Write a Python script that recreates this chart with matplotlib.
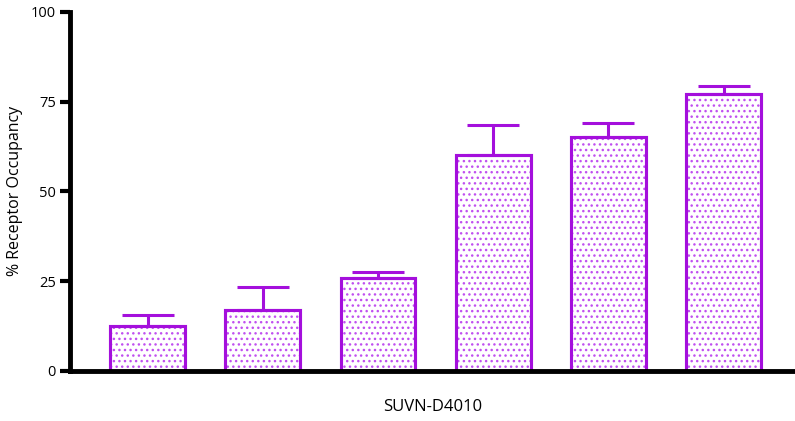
import matplotlib.pyplot as plt
import numpy as np

# данные
groups = ["1", "2", "3", "4", "5", "6"]
occupancy = [12.5, 17.0, 26.0, 60.0, 65.2, 77.0]
err_up = [3.1, 6.4, 1.6, 8.5, 3.8, 2.4]

purple = "#A40FDC"
plt.rcParams['hatch.color'] = "#C050F0"
plt.rcParams['hatch.linewidth'] = 1.0

fig = plt.figure(figsize=(7.95, 4.21), dpi=100)
ax = fig.add_axes([0.088, 0.119, 0.912, 0.853])

x = np.arange(len(groups))
ax.bar(x, occupancy, width=0.65, facecolor="white", edgecolor=purple,
       linewidth=2.2, zorder=2)
ax.bar(x, occupancy, width=0.65, facecolor="none", edgecolor="#C050F0",
       linewidth=0, hatch="...", zorder=2)
ax.bar(x, occupancy, width=0.65, facecolor="none", edgecolor=purple,
       linewidth=2.2, zorder=2)
ax.errorbar(x, occupancy, yerr=[np.zeros(len(x)), err_up], fmt="none",
            ecolor=purple, elinewidth=2.2, capsize=19, capthick=2.2, zorder=3)

ax.set_xlim(-0.675, 5.62)
ax.set_ylim(0, 100)
ax.set_yticks([0, 25, 50, 75, 100])
ax.set_xticks([])
for s in ["top", "right"]:
    ax.spines[s].set_visible(False)
ax.spines["left"].set_linewidth(3.5)
ax.spines["bottom"].set_linewidth(3.5)
ax.tick_params(axis="y", length=7, width=3, labelsize=10.5, pad=3)
for lab in ax.get_yticklabels():
    lab.set_fontfamily("Open Sans")

ax.set_ylabel("% Receptor Occupancy", fontsize=11.5, fontfamily="Open Sans", labelpad=6)
ax.yaxis.set_label_coords(-0.065, 0.5)
ax.set_xlabel("SUVN-D4010", fontsize=12, fontfamily="Open Sans", labelpad=20)

fig.savefig("out.png", dpi=100)
